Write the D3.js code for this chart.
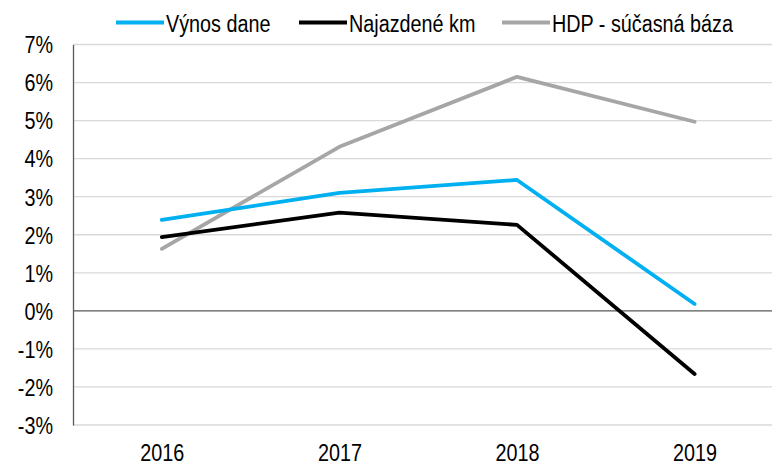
<!DOCTYPE html>
<html><head><meta charset="utf-8">
<script src="https://cdn.jsdelivr.net/npm/d3@7"></script>
<style>body{margin:0;background:#fff}svg{display:block;font-family:"Liberation Sans",Arial,sans-serif}</style>
</head><body><svg id="c" width="772" height="465"></svg>
<script>
const years = ["2016","2017","2018","2019"];
const vynos = [2.39, 3.10, 3.44, 0.18];
const km = [1.94, 2.58, 2.26, -1.66];
const hdp = [1.63, 4.31, 6.15, 4.97];
const yTicks = [-3,-2,-1,0,1,2,3,4,5,6,7];
const seriesNames = ["Výnos dane","Najazdené km","HDP - súčasná báza"];
const colors = ["#00B0F0","#000000","#A6A6A6"];

(function(){
const svg = d3.select("#c");
const pL = 73, pT = 44.5, pB = 425, step = 177.6;
const FS = 23, SX = 0.86;
const x = d3.scalePoint().domain(years).range([pL + step/2, pL + step*3.5]);
const y = d3.scaleLinear().domain([-3,7]).range([pB, pT]);

svg.append("g").selectAll("line").data(yTicks).join("line")
  .attr("x1", pL).attr("x2", 772)
  .attr("y1", d=>y(d)).attr("y2", d=>y(d))
  .attr("stroke", d=> d===0 ? "#595959" : "#D9D9D9")
  .attr("stroke-width", 1.3);

const yAxis = d3.axisLeft(y).tickValues(yTicks).tickFormat(d=>d+"%").tickSize(0).tickPadding(0);
const gy = svg.append("g").attr("transform",`translate(${pL},0)`).call(yAxis);
gy.select(".domain").attr("stroke","#595959").attr("stroke-width",1.3);
gy.selectAll("text").attr("font-size",FS).attr("fill","#000")
  .attr("font-family","Liberation Sans, Arial, sans-serif")
  .attr("x",0).attr("dy",null).attr("y",8.3)
  .attr("transform",`translate(-20,0) scale(${SX},1)`);

const xAxis = d3.axisBottom(x).tickSize(0).tickPadding(0);
const gx = svg.append("g").attr("transform",`translate(0,${pB})`).call(xAxis);
gx.select(".domain").remove();
gx.selectAll("text").attr("font-size",FS).attr("fill","#000")
  .attr("font-family","Liberation Sans, Arial, sans-serif")
  .attr("dy",null).attr("y",0)
  .attr("transform",`translate(0,35.5) scale(${SX},1)`);

const data = [vynos, km, hdp];
const line = d3.line().x((d,i)=>x(years[i])).y(d=>y(d));
[2,1,0].forEach(k=>{
  svg.append("path").datum(data[k]).attr("d", line)
    .attr("fill","none").attr("stroke", colors[k]).attr("stroke-width",3.8)
    .attr("stroke-linecap","round").attr("stroke-linejoin","round");
});

const legX = [116, 299, 502];
const lg = svg.append("g");
seriesNames.forEach((n,i)=>{
  lg.append("line").attr("x1", legX[i]).attr("x2", legX[i]+48).attr("y1",22.5).attr("y2",22.5)
    .attr("stroke", colors[i]).attr("stroke-width",3.8);
  lg.append("text").attr("transform",`translate(${legX[i]+50},31.5) scale(${SX},1)`)
    .attr("font-size",FS).text(n);
});
})();
</script></body></html>
